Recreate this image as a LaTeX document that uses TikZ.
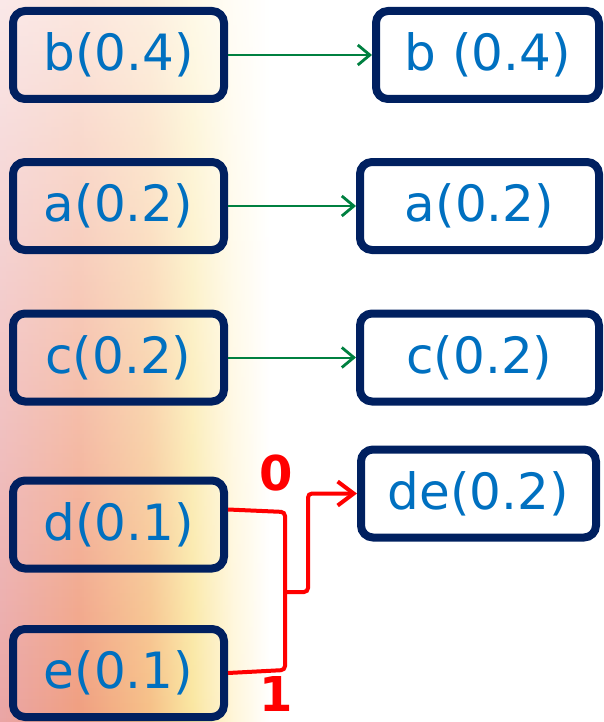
\documentclass[tikz,border=0pt]{standalone}
\usepackage{fontspec}
\setmainfont{DejaVu Sans}
\usetikzlibrary{fadings,arrows.meta}

\definecolor{boxline}{RGB}{0,32,96}
\definecolor{boxtext}{RGB}{0,112,192}
\definecolor{keepgreen}{RGB}{0,128,64}
\definecolor{rose}{RGB}{234,165,165}
\definecolor{salmon}{RGB}{240,158,128}
\definecolor{peach}{RGB}{246,192,135}
\definecolor{sand}{RGB}{250,230,160}
\definecolor{cream}{RGB}{255,246,218}

% warm wash behind the left column
\pgfdeclarehorizontalshading{warmwash}{100bp}{color(0bp)=(rose); color(25bp)=(rose); color(38bp)=(salmon); color(50bp)=(peach); color(57bp)=(sand); color(64bp)=(cream); color(70bp)=(white); color(100bp)=(white)}
\tikzfading[name=risewash, top color=transparent!75, middle color=transparent!25, bottom color=transparent!0]

\tikzset{
  prob/.style={draw=boxline, line width=4pt, rounded corners=6pt, text=boxtext,
    font=\fontsize{25}{28}\selectfont, minimum width=105.5pt, minimum height=44pt, inner sep=0pt},
  keep/.style={draw=keepgreen, line width=1pt, -{Straight Barb[length=6pt,width=10pt,line width=1.4pt]}},
  merge/.style={draw=red, line width=2pt, rounded corners=2pt},
  bit/.style={text=red, font=\fontsize{24}{26}\selectfont\bfseries, inner sep=0pt},
}

\begin{document}
\begin{tikzpicture}[x=0.5pt, y=-0.5pt]
\useasboundingbox (0,0) rectangle (604,722);
\shade[shading=warmwash, path fading=risewash] (0,0) rectangle (300,722);

% first column
\node[prob] (bl) at (118.5,55) {b(0.4)};
\node[prob] (al) at (118.5,206) {a(0.2)};
\node[prob] (cl) at (118.5,357.5) {c(0.2)};
\node[prob] (dl) at (118.5,524.5) {d(0.1)};
\node[prob] (el) at (118.5,673) {e(0.1)};

% second column
\node[prob, minimum width=111.5pt] (br) at (487.5,55) {b (0.4)};
\node[prob, minimum width=119.5pt] (ar) at (479.5,206) {a(0.2)};
\node[prob, minimum width=119.5pt] (cr) at (479.5,357.5) {c(0.2)};
\node[prob, minimum width=117.5pt] (de) at (478.5,493.5) {de(0.2)};

\draw[keep] (bl) -- (br);
\draw[keep] (al) -- (ar);
\draw[keep] (cl) -- (cr);

% d and e merged
\coordinate (fork) at (285,592);
\draw[merge] ([yshift=7.5pt]dl.east) -- (285,512) -- (285,670) -- (el.east);
\draw[merge, -{Straight Barb[length=8pt,width=12pt]}] (fork) -- (308,592) |- (de.west);
\node[bit] (zero) at (276,473) {0};
\node[bit] (one) at (276,694) {1};
\end{tikzpicture}
\end{document}
